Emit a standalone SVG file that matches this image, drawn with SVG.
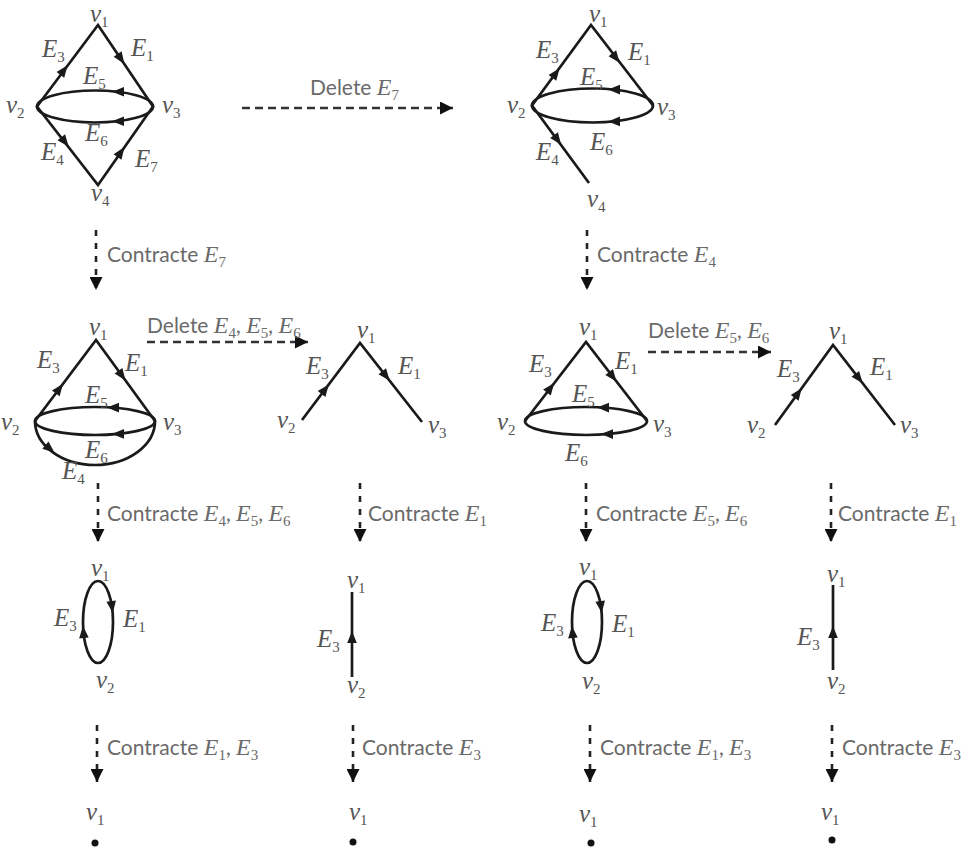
<svg xmlns="http://www.w3.org/2000/svg" xmlns:xlink="http://www.w3.org/1999/xlink" width="966" height="849" viewBox="0 0 966 849">
<defs>
<style>
.e{stroke:#1a1a1a;stroke-width:2.7;fill:none}
.t{fill:#1a1a1a}
.m{font-family:"Liberation Serif",serif;font-style:italic;font-size:25px;fill:#555}
.s{font-family:"Liberation Serif",serif;font-style:normal;font-size:15px}
.i{font-family:"Liberation Serif",serif;font-style:italic;font-size:24px}
.c{font-family:Lato,"Liberation Sans",sans-serif;font-size:21px;fill:#6a6a6a}
.dv{stroke:#222;stroke-width:2.6;stroke-dasharray:6 7;fill:none}
.dh{stroke:#333;stroke-width:2.6;stroke-dasharray:8 5;fill:none}
.dot{fill:#111}
</style>
<path id="t" d="M6,0 L-6,-4.8 L-6,4.8 Z"/>
<marker id="ah" viewBox="0 0 12 12" refX="12" refY="6" markerWidth="13" markerHeight="13" markerUnits="userSpaceOnUse" orient="auto">
<path d="M0,0 L12,6 L0,12 Z" fill="#111"/>
</marker>
</defs>
<rect width="966" height="849" fill="#fff"/>

<g id="graph-G">
<path class="e" d="M37,106.5 L98,25 L153,106.5 L98,185 Z"/>
<ellipse class="e" cx="95" cy="106.5" rx="58" ry="16"/>
<use href="#t" class="t" transform="translate(64,70) rotate(-53)"/>
<use href="#t" class="t" transform="translate(121,59) rotate(56)"/>
<use href="#t" class="t" transform="translate(118,91.8) rotate(180)"/>
<use href="#t" class="t" transform="translate(118,121.2) rotate(180)"/>
<use href="#t" class="t" transform="translate(65,142) rotate(52)"/>
<use href="#t" class="t" transform="translate(121,152) rotate(-55)"/>
<text class="m" x="90" y="22">v<tspan class="s" dy="5">1</tspan></text>
<text class="m" x="6" y="113">v<tspan class="s" dy="5">2</tspan></text>
<text class="m" x="162" y="113">v<tspan class="s" dy="5">3</tspan></text>
<text class="m" x="91" y="201">v<tspan class="s" dy="5">4</tspan></text>
<text class="m" x="42" y="57">E<tspan class="s" dy="5">3</tspan></text>
<text class="m" x="131" y="56">E<tspan class="s" dy="5">1</tspan></text>
<text class="m" x="83" y="84">E<tspan class="s" dy="5">5</tspan></text>
<text class="m" x="85" y="141">E<tspan class="s" dy="5">6</tspan></text>
<text class="m" x="41" y="160">E<tspan class="s" dy="5">4</tspan></text>
<text class="m" x="135" y="167">E<tspan class="s" dy="5">7</tspan></text>
</g>

<g id="graph-G-minus-E7">
<path class="e" d="M589,183 L532,105.5 L591,25 L653,105.5"/>
<ellipse class="e" cx="592.5" cy="105.5" rx="60.5" ry="17"/>
<use href="#t" class="t" transform="translate(556,73) rotate(-53.6)"/>
<use href="#t" class="t" transform="translate(616,58) rotate(52.6)"/>
<use href="#t" class="t" transform="translate(614,89.6) rotate(180)"/>
<use href="#t" class="t" transform="translate(614,121.4) rotate(180)"/>
<use href="#t" class="t" transform="translate(557.6,140) rotate(53.8)"/>
<text class="m" x="589" y="22">v<tspan class="s" dy="5">1</tspan></text>
<text class="m" x="507" y="113">v<tspan class="s" dy="5">2</tspan></text>
<text class="m" x="657" y="115">v<tspan class="s" dy="5">3</tspan></text>
<text class="m" x="587" y="207">v<tspan class="s" dy="5">4</tspan></text>
<text class="m" x="536" y="58">E<tspan class="s" dy="5">3</tspan></text>
<text class="m" x="628" y="60">E<tspan class="s" dy="5">1</tspan></text>
<text class="m" x="580" y="85">E<tspan class="s" dy="5">5</tspan></text>
<text class="m" x="590" y="150">E<tspan class="s" dy="5">6</tspan></text>
<text class="m" x="536" y="160">E<tspan class="s" dy="5">4</tspan></text>
</g>

<g id="graph-G-contract-E7">
<path class="e" d="M35,421 L96,340 L155,421"/>
<ellipse class="e" cx="95" cy="421" rx="60" ry="14"/>
<path class="e" d="M35,421 A60,44 0 0 0 155,421"/>
<use href="#t" class="t" transform="translate(59.4,388.6) rotate(-53)"/>
<use href="#t" class="t" transform="translate(122,375.6) rotate(54)"/>
<use href="#t" class="t" transform="translate(113,407.6) rotate(180)"/>
<use href="#t" class="t" transform="translate(118,433.9) rotate(180)"/>
<use href="#t" class="t" transform="translate(50,449) rotate(40)"/>
<text class="m" x="89" y="335">v<tspan class="s" dy="5">1</tspan></text>
<text class="m" x="1" y="430">v<tspan class="s" dy="5">2</tspan></text>
<text class="m" x="163" y="430">v<tspan class="s" dy="5">3</tspan></text>
<text class="m" x="37" y="368">E<tspan class="s" dy="5">3</tspan></text>
<text class="m" x="125" y="371">E<tspan class="s" dy="5">1</tspan></text>
<text class="m" x="85" y="403">E<tspan class="s" dy="5">5</tspan></text>
<text class="m" x="85" y="458">E<tspan class="s" dy="5">6</tspan></text>
<text class="m" x="62" y="479">E<tspan class="s" dy="5">4</tspan></text>
</g>

<g id="graph-path-a">
<path class="e" d="M302,420 L360,343 L422,422"/>
<use href="#t" class="t" transform="translate(325.2,389.2) rotate(-53)"/>
<use href="#t" class="t" transform="translate(386,376) rotate(52)"/>
<text class="m" x="357" y="338">v<tspan class="s" dy="5">1</tspan></text>
<text class="m" x="277" y="428">v<tspan class="s" dy="5">2</tspan></text>
<text class="m" x="428" y="433">v<tspan class="s" dy="5">3</tspan></text>
<text class="m" x="306" y="374">E<tspan class="s" dy="5">3</tspan></text>
<text class="m" x="398" y="374">E<tspan class="s" dy="5">1</tspan></text>
</g>

<g id="graph-G-minus-E7-contract-E4">
<path class="e" d="M525,421 L586,342 L647,421"/>
<ellipse class="e" cx="586" cy="421" rx="61" ry="14"/>
<use href="#t" class="t" transform="translate(550.6,387.8) rotate(-52.3)"/>
<use href="#t" class="t" transform="translate(612.8,376.8) rotate(52.3)"/>
<use href="#t" class="t" transform="translate(603,407.6) rotate(180)"/>
<use href="#t" class="t" transform="translate(607,434.1) rotate(180)"/>
<text class="m" x="579" y="335">v<tspan class="s" dy="5">1</tspan></text>
<text class="m" x="497" y="430">v<tspan class="s" dy="5">2</tspan></text>
<text class="m" x="653" y="432">v<tspan class="s" dy="5">3</tspan></text>
<text class="m" x="529" y="372">E<tspan class="s" dy="5">3</tspan></text>
<text class="m" x="615" y="369">E<tspan class="s" dy="5">1</tspan></text>
<text class="m" x="572" y="402">E<tspan class="s" dy="5">5</tspan></text>
<text class="m" x="565" y="461">E<tspan class="s" dy="5">6</tspan></text>
</g>

<g id="graph-path-b">
<path class="e" d="M775,425 L833,345 L895,425"/>
<use href="#t" class="t" transform="translate(798.2,393) rotate(-54)"/>
<use href="#t" class="t" transform="translate(859,378.6) rotate(52.2)"/>
<text class="m" x="829" y="339">v<tspan class="s" dy="5">1</tspan></text>
<text class="m" x="747" y="433">v<tspan class="s" dy="5">2</tspan></text>
<text class="m" x="900" y="433">v<tspan class="s" dy="5">3</tspan></text>
<text class="m" x="777" y="377">E<tspan class="s" dy="5">3</tspan></text>
<text class="m" x="870" y="375">E<tspan class="s" dy="5">1</tspan></text>
</g>

<g id="graph-loop-a">
<ellipse class="e" cx="98" cy="622" rx="15" ry="41"/>
<use href="#t" class="t" transform="translate(112,607) rotate(82)"/>
<use href="#t" class="t" transform="translate(83.4,632) rotate(-95)"/>
<text class="m" x="91" y="576">v<tspan class="s" dy="5">1</tspan></text>
<text class="m" x="96" y="688">v<tspan class="s" dy="5">2</tspan></text>
<text class="m" x="54" y="626">E<tspan class="s" dy="5">3</tspan></text>
<text class="m" x="123" y="627">E<tspan class="s" dy="5">1</tspan></text>
</g>

<g id="graph-edge-a">
<path class="e" d="M352,592 V677"/>
<use href="#t" class="t" transform="translate(352,637) rotate(-90)"/>
<text class="m" x="347" y="588">v<tspan class="s" dy="5">1</tspan></text>
<text class="m" x="347" y="693">v<tspan class="s" dy="5">2</tspan></text>
<text class="m" x="317" y="647">E<tspan class="s" dy="5">3</tspan></text>
</g>

<g id="graph-loop-b">
<ellipse class="e" cx="587" cy="622" rx="15" ry="41"/>
<use href="#t" class="t" transform="translate(601,607) rotate(82)"/>
<use href="#t" class="t" transform="translate(572.4,632) rotate(-95)"/>
<text class="m" x="579" y="575">v<tspan class="s" dy="5">1</tspan></text>
<text class="m" x="582" y="689">v<tspan class="s" dy="5">2</tspan></text>
<text class="m" x="541" y="631">E<tspan class="s" dy="5">3</tspan></text>
<text class="m" x="612" y="632">E<tspan class="s" dy="5">1</tspan></text>
</g>

<g id="graph-edge-b">
<path class="e" d="M833,585 V670"/>
<use href="#t" class="t" transform="translate(833,632) rotate(-90)"/>
<text class="m" x="827" y="582">v<tspan class="s" dy="5">1</tspan></text>
<text class="m" x="827" y="689">v<tspan class="s" dy="5">2</tspan></text>
<text class="m" x="797" y="645">E<tspan class="s" dy="5">3</tspan></text>
</g>

<g id="vertex-1">
<text class="m" x="86" y="820">v<tspan class="s" dy="5">1</tspan></text>
<circle class="dot" cx="95" cy="843" r="3.5"/>
</g>
<g id="vertex-2">
<text class="m" x="349" y="820">v<tspan class="s" dy="5">1</tspan></text>
<circle class="dot" cx="353" cy="842" r="3.5"/>
</g>
<g id="vertex-3">
<text class="m" x="579" y="822">v<tspan class="s" dy="5">1</tspan></text>
<circle class="dot" cx="591" cy="843" r="3.5"/>
</g>
<g id="vertex-4">
<text class="m" x="821" y="820">v<tspan class="s" dy="5">1</tspan></text>
<circle class="dot" cx="832" cy="840" r="3.5"/>
</g>

<g id="connectors">
<line class="dh" x1="242" y1="108" x2="453" y2="108" marker-end="url(#ah)"/>
<text class="c" x="310" y="95">Delete <tspan class="i">E</tspan><tspan class="s" dy="5">7</tspan></text>

<line class="dv" x1="96" y1="230" x2="96" y2="290" marker-end="url(#ah)"/>
<text class="c" x="107" y="262">Contracte <tspan class="i">E</tspan><tspan class="s" dy="5">7</tspan></text>

<line class="dv" x1="587" y1="230" x2="587" y2="290" marker-end="url(#ah)"/>
<text class="c" x="597" y="262">Contracte <tspan class="i">E</tspan><tspan class="s" dy="5">4</tspan></text>

<line class="dh" x1="147" y1="342" x2="308" y2="342" marker-end="url(#ah)"/>
<text class="c" x="147" y="333">Delete <tspan class="i">E</tspan><tspan class="s" dy="5">4</tspan><tspan dy="-5">, </tspan><tspan class="i">E</tspan><tspan class="s" dy="5">5</tspan><tspan dy="-5">, </tspan><tspan class="i">E</tspan><tspan class="s" dy="5">6</tspan></text>

<line class="dh" x1="648" y1="352" x2="771" y2="352" marker-end="url(#ah)"/>
<text class="c" x="648" y="338">Delete <tspan class="i">E</tspan><tspan class="s" dy="5">5</tspan><tspan dy="-5">, </tspan><tspan class="i">E</tspan><tspan class="s" dy="5">6</tspan></text>

<line class="dv" x1="98" y1="483" x2="98" y2="542" marker-end="url(#ah)"/>
<text class="c" x="107" y="521">Contracte <tspan class="i">E</tspan><tspan class="s" dy="5">4</tspan><tspan dy="-5">, </tspan><tspan class="i">E</tspan><tspan class="s" dy="5">5</tspan><tspan dy="-5">, </tspan><tspan class="i">E</tspan><tspan class="s" dy="5">6</tspan></text>

<line class="dv" x1="360" y1="483" x2="360" y2="542" marker-end="url(#ah)"/>
<text class="c" x="368" y="521">Contracte <tspan class="i">E</tspan><tspan class="s" dy="5">1</tspan></text>

<line class="dv" x1="586" y1="483" x2="586" y2="542" marker-end="url(#ah)"/>
<text class="c" x="596" y="521">Contracte <tspan class="i">E</tspan><tspan class="s" dy="5">5</tspan><tspan dy="-5">, </tspan><tspan class="i">E</tspan><tspan class="s" dy="5">6</tspan></text>

<line class="dv" x1="831" y1="483" x2="831" y2="542" marker-end="url(#ah)"/>
<text class="c" x="838" y="521">Contracte <tspan class="i">E</tspan><tspan class="s" dy="5">1</tspan></text>

<line class="dv" x1="97" y1="725" x2="97" y2="782" marker-end="url(#ah)"/>
<text class="c" x="107" y="755">Contracte <tspan class="i">E</tspan><tspan class="s" dy="5">1</tspan><tspan dy="-5">, </tspan><tspan class="i">E</tspan><tspan class="s" dy="5">3</tspan></text>

<line class="dv" x1="353" y1="725" x2="353" y2="782" marker-end="url(#ah)"/>
<text class="c" x="362" y="755">Contracte <tspan class="i">E</tspan><tspan class="s" dy="5">3</tspan></text>

<line class="dv" x1="590" y1="725" x2="590" y2="782" marker-end="url(#ah)"/>
<text class="c" x="600" y="755">Contracte <tspan class="i">E</tspan><tspan class="s" dy="5">1</tspan><tspan dy="-5">, </tspan><tspan class="i">E</tspan><tspan class="s" dy="5">3</tspan></text>

<line class="dv" x1="832" y1="725" x2="832" y2="782" marker-end="url(#ah)"/>
<text class="c" x="842" y="755">Contracte <tspan class="i">E</tspan><tspan class="s" dy="5">3</tspan></text>
</g>
</svg>
